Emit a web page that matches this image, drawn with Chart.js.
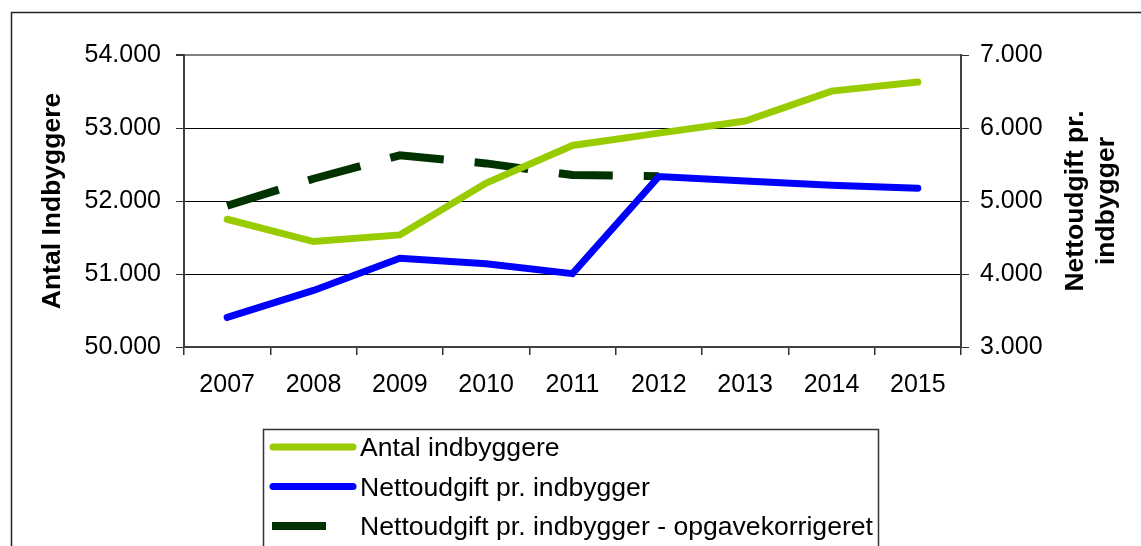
<!DOCTYPE html>
<html>
<head>
<meta charset="utf-8">
<script src="https://cdn.jsdelivr.net/npm/chart.js@4.4.1/dist/chart.umd.min.js"></script>
<style>
  html, body { margin: 0; padding: 0; background: #fff; }
  #wrap { width: 1141px; height: 546px; position: relative; }
</style>
</head>
<body>
<div id="wrap"><canvas id="myChart" width="1141" height="546"></canvas></div>
<script>
const years = ['2007', '2008', '2009', '2010', '2011', '2012', '2013', '2014', '2015'];

// antal indbyggere (venstre akse)
const indbyggere = [51750, 51445, 51535, 52245, 52760, 52930, 53095, 53505, 53630];

// nettoudgift pr. indbygger (højre akse)
const nettoudgift = [3405, 3775, 4215, 4140, 4005, 5335, 5275, 5215, 5175];

// opgavekorrigeret, kun til og med 2012
const nettoudgiftKorr = [4935, 5305, 5625, 5515, 5355, 5340, null, null, null];

const seriesNames = [
    'Antal indbyggere',
    'Nettoudgift pr. indbygger',
    'Nettoudgift pr. indbygger - opgavekorrigeret'
];

const FONT = "'Liberation Sans', Arial, sans-serif";

function fmt(v) {
    return (v / 1000).toFixed(3);
}

// ramme, aksetitler og forklaring tegnes direkte på canvas
const extras = {
    id: 'extras',
    beforeDraw(chart) {
        const c = chart.ctx;
        c.save();
        c.fillStyle = '#fff';
        c.fillRect(0, 0, chart.width, chart.height);
        c.strokeStyle = '#222';
        c.lineWidth = 1.5;
        c.beginPath();
        c.moveTo(11.5, chart.height + 2);
        c.lineTo(11.5, 12.5);
        c.lineTo(chart.width + 2, 12.5);
        c.stroke();
        c.restore();
    },
    afterDraw(chart) {
        const c = chart.ctx;
        const area = chart.chartArea;
        const midY = (area.top + area.bottom) / 2;

        c.save();
        c.fillStyle = '#000';
        c.font = 'bold 26.5px ' + FONT;
        c.textAlign = 'center';
        c.textBaseline = 'middle';

        c.save();
        c.translate(53, midY);
        c.rotate(-Math.PI / 2);
        c.fillText('Antal Indbyggere', 0, 0);
        c.restore();

        c.save();
        c.translate(1091, midY);
        c.rotate(-Math.PI / 2);
        c.fillText('Nettoudgift pr.', 0, -15.5);
        c.fillText('indbygger', 0, 15.5);
        c.restore();

        // forklaring
        const bx = 263, by = 429;
        c.fillStyle = '#fff';
        c.fillRect(bx, by, 878 - bx, chart.height - by + 5);
        c.strokeStyle = '#333';
        c.lineWidth = 1.5;
        c.strokeRect(bx + 0.5, by + 0.5, 878 - bx, chart.height - by + 10);

        c.font = '26.6px ' + FONT;
        c.textAlign = 'left';
        chart.data.datasets.forEach((ds, i) => {
            const y = 447 + i * 39.5;
            c.save();
            c.strokeStyle = ds.borderColor;
            c.lineWidth = ds.borderWidth;
            c.lineCap = ds.borderDash.length ? 'butt' : 'round';
            c.setLineDash(ds.borderDash);
            c.beginPath();
            if (ds.borderDash.length) {
                c.moveTo(272, y);
                c.lineTo(356, y);
            } else {
                c.moveTo(273, y);
                c.lineTo(353, y);
            }
            c.stroke();
            c.restore();
            c.fillStyle = '#000';
            c.fillText(ds.label, 360, y + 2);
        });
        c.restore();
    }
};

const data = {
    labels: years,
    datasets: [{
        label: seriesNames[0],
        data: indbyggere,
        yAxisID: 'y',
        borderColor: '#99CC00',
        backgroundColor: '#99CC00',
        borderWidth: 7,
        borderCapStyle: 'round',
        borderJoinStyle: 'miter',
        borderDash: [],
        pointRadius: 0,
        tension: 0
    }, {
        label: seriesNames[1],
        data: nettoudgift,
        yAxisID: 'y1',
        borderColor: '#0000FF',
        backgroundColor: '#0000FF',
        borderWidth: 7,
        borderCapStyle: 'round',
        borderJoinStyle: 'miter',
        borderDash: [],
        pointRadius: 0,
        tension: 0
    }, {
        label: seriesNames[2],
        data: nettoudgiftKorr,
        yAxisID: 'y1',
        borderColor: '#003300',
        backgroundColor: '#003300',
        borderWidth: 8,
        borderCapStyle: 'butt',
        borderJoinStyle: 'miter',
        borderDash: [54, 31],
        pointRadius: 0,
        tension: 0,
        spanGaps: false
    }]
};

const tickFont = { family: FONT, size: 25 };

const config = {
    type: 'line',
    data: data,
    options: {
        responsive: false,
        animation: false,
        layout: {
            padding: { left: 0, right: 0, top: 55, bottom: 129 }
        },
        plugins: {
            legend: { display: false },
            title: { display: false },
            tooltip: { enabled: false }
        },
        scales: {
            x: {
                offset: true,
                grid: {
                    offset: true,
                    drawOnChartArea: false,
                    tickLength: 8,
                    tickColor: '#333',
                    lineWidth: 1.5
                },
                border: { color: '#404040', width: 2 },
                ticks: { font: tickFont, color: '#000', padding: 15, maxRotation: 0 },
                afterFit(scale) { scale.height = 70; }
            },
            y: {
                position: 'left',
                min: 50000,
                max: 54000,
                ticks: {
                    stepSize: 1000,
                    font: tickFont,
                    color: '#000',
                    padding: 15,
                    callback: (v) => fmt(v)
                },
                grid: {
                    color: (ctx) => ctx.tick && ctx.tick.value === 54000 ? '#808080' : '#000',
                    lineWidth: (ctx) => ctx.tick && ctx.tick.value === 54000 ? 2 : 1,
                    tickLength: 8,
                    tickColor: '#333'
                },
                border: { color: '#404040', width: 2 },
                afterFit(scale) { scale.width = 184; }
            },
            y1: {
                position: 'right',
                min: 3000,
                max: 7000,
                ticks: {
                    stepSize: 1000,
                    font: tickFont,
                    color: '#000',
                    padding: 11,
                    callback: (v) => fmt(v)
                },
                grid: {
                    drawOnChartArea: false,
                    tickLength: 8,
                    tickColor: '#333'
                },
                border: { color: '#404040', width: 2 },
                afterFit(scale) { scale.width = 180; }
            }
        }
    },
    plugins: [extras]
};

var myChart = new Chart(document.getElementById('myChart'), config);
</script>
</body>
</html>
